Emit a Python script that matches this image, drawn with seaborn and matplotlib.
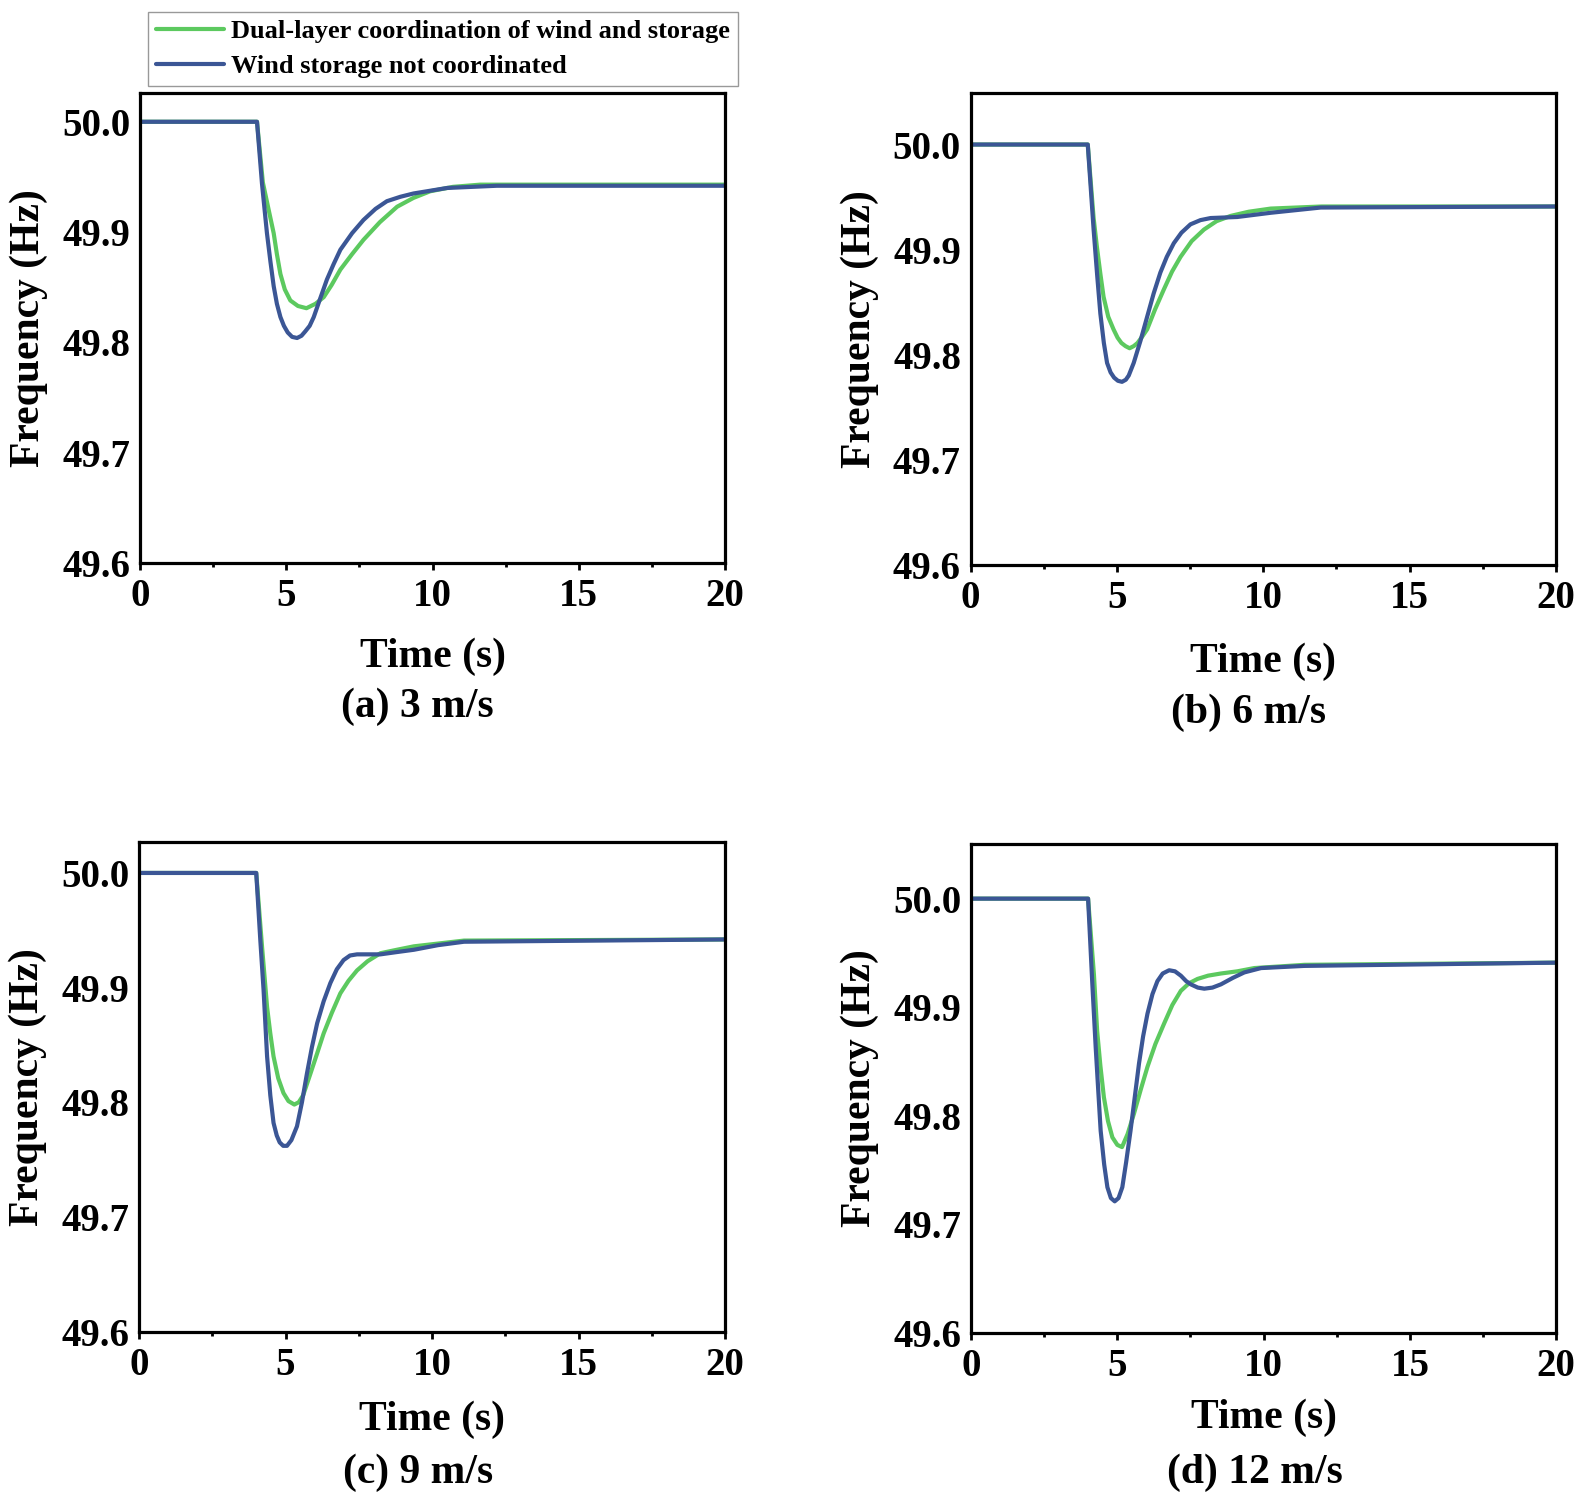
import matplotlib
matplotlib.use("Agg")
import matplotlib.pyplot as plt
import numpy as np
import pandas as pd
import seaborn as sns

# (a) 3 m/s
t_a_dual = [0, 4.0, 4.2, 4.4, 4.57, 4.68, 4.8, 4.95, 5.14, 5.4, 5.69, 6.0, 6.28, 6.55, 6.85, 7.25, 7.64, 8.2, 8.79, 9.35, 9.92, 10.7, 11.63, 14.0, 20]
f_a_dual = [50.0, 50.0, 49.945, 49.920, 49.899, 49.880, 49.862, 49.848, 49.838, 49.833, 49.831, 49.835, 49.841, 49.852, 49.866, 49.880, 49.893, 49.909, 49.923, 49.931, 49.937, 49.941, 49.943, 49.943, 49.943]
t_a_nc = [0, 4.0, 4.17, 4.34, 4.46, 4.57, 4.68, 4.8, 4.92, 5.05, 5.2, 5.37, 5.52, 5.65, 5.8, 5.94, 6.15, 6.39, 6.62, 6.85, 7.25, 7.64, 8.05, 8.44, 8.9, 9.35, 10.5, 12.2, 20]
f_a_nc = [50.0, 50.0, 49.944, 49.899, 49.873, 49.851, 49.835, 49.823, 49.815, 49.809, 49.805, 49.804, 49.806, 49.810, 49.815, 49.823, 49.839, 49.857, 49.871, 49.884, 49.899, 49.911, 49.921, 49.928, 49.932, 49.935, 49.940, 49.942, 49.942]

# (b) 6 m/s
t_b_dual = [0, 4.0, 4.2, 4.31, 4.43, 4.54, 4.7, 4.88, 5.02, 5.15, 5.29, 5.43, 5.57, 5.7, 5.86, 6.03, 6.3, 6.6, 6.88, 7.17, 7.55, 7.97, 8.4, 8.88, 9.5, 10.25, 12.0, 20]
f_b_dual = [50.0, 50.0, 49.93, 49.903, 49.877, 49.855, 49.836, 49.824, 49.816, 49.811, 49.808, 49.806, 49.808, 49.811, 49.817, 49.824, 49.843, 49.862, 49.879, 49.893, 49.908, 49.919, 49.927, 49.932, 49.936, 49.939, 49.941, 49.941]
t_b_nc = [0, 4.0, 4.2, 4.32, 4.43, 4.55, 4.66, 4.78, 4.9, 5.03, 5.17, 5.3, 5.4, 5.57, 5.8, 6.03, 6.25, 6.48, 6.7, 6.94, 7.2, 7.51, 7.85, 8.2, 9.11, 10.25, 11.96, 20]
f_b_nc = [50.0, 50.0, 49.919, 49.876, 49.839, 49.811, 49.792, 49.783, 49.778, 49.775, 49.774, 49.776, 49.780, 49.792, 49.813, 49.836, 49.858, 49.878, 49.893, 49.906, 49.916, 49.924, 49.928, 49.930, 49.931, 49.935, 49.940, 49.941]

# (c) 9 m/s
t_c_dual = [0, 4.0, 4.2, 4.37, 4.48, 4.59, 4.75, 4.93, 5.1, 5.3, 5.45, 5.6, 5.85, 6.07, 6.3, 6.58, 6.87, 7.15, 7.44, 7.8, 8.24, 8.8, 9.38, 11.09, 20]
f_c_dual = [50.0, 50.0, 49.935, 49.883, 49.860, 49.840, 49.821, 49.808, 49.801, 49.798, 49.800, 49.806, 49.825, 49.842, 49.860, 49.878, 49.895, 49.906, 49.915, 49.923, 49.930, 49.933, 49.936, 49.941, 49.942]
t_c_nc = [0, 4.0, 4.14, 4.25, 4.37, 4.48, 4.59, 4.7, 4.8, 4.92, 5.05, 5.2, 5.39, 5.56, 5.73, 5.9, 6.08, 6.3, 6.53, 6.75, 6.98, 7.2, 7.44, 7.8, 8.24, 8.8, 9.38, 10.2, 11.09, 20]
f_c_nc = [50.0, 50.0, 49.941, 49.898, 49.840, 49.806, 49.782, 49.771, 49.765, 49.762, 49.762, 49.767, 49.779, 49.800, 49.825, 49.848, 49.869, 49.888, 49.904, 49.916, 49.924, 49.928, 49.929, 49.929, 49.929, 49.931, 49.933, 49.937, 49.940, 49.942]

# (d) 12 m/s
t_d_dual = [0, 4.0, 4.2, 4.31, 4.42, 4.54, 4.68, 4.83, 5.0, 5.16, 5.35, 5.57, 5.8, 6.03, 6.3, 6.6, 6.88, 7.17, 7.45, 7.74, 8.1, 8.54, 9.1, 9.68, 11.4, 20]
f_d_dual = [50.0, 50.0, 49.93, 49.878, 49.846, 49.817, 49.795, 49.780, 49.773, 49.771, 49.783, 49.802, 49.824, 49.845, 49.866, 49.885, 49.902, 49.915, 49.922, 49.926, 49.929, 49.931, 49.933, 49.936, 49.939, 49.941]
t_d_nc = [0, 4.0, 4.14, 4.26, 4.35, 4.43, 4.55, 4.66, 4.78, 4.91, 5.04, 5.17, 5.3, 5.45, 5.6, 5.74, 5.88, 6.03, 6.2, 6.37, 6.55, 6.77, 6.97, 7.17, 7.35, 7.51, 7.75, 7.97, 8.25, 8.54, 8.95, 9.34, 9.91, 11.39, 20]
f_d_nc = [50.0, 50.0, 49.924, 49.863, 49.822, 49.786, 49.755, 49.734, 49.724, 49.721, 49.724, 49.734, 49.757, 49.786, 49.818, 49.848, 49.873, 49.894, 49.912, 49.924, 49.931, 49.934, 49.933, 49.929, 49.924, 49.921, 49.918, 49.917, 49.918, 49.921, 49.927, 49.932, 49.936, 49.938, 49.941]

series_names = ["Dual-layer coordination of wind and storage", "Wind storage not coordinated"]
subtitles = ["(a) 3 m/s", "(b) 6 m/s", "(c) 9 m/s", "(d) 12 m/s"]
y_ticks = [49.6, 49.7, 49.8, 49.9, 50.0]
x_ticks = [0, 5, 10, 15, 20]

sns.set_theme(style="ticks")
plt.rcParams["font.family"] = ["Liberation Serif", "DejaVu Serif"]
plt.rcParams["font.weight"] = "bold"
plt.rcParams["axes.labelweight"] = "bold"
plt.rcParams["text.color"] = "black"
plt.rcParams["axes.labelcolor"] = "black"

green = "#5cc95f"
blue = "#3b5695"

panels = [
    (t_a_dual, f_a_dual, t_a_nc, f_a_nc),
    (t_b_dual, f_b_dual, t_b_nc, f_b_nc),
    (t_c_dual, f_c_dual, t_c_nc, f_c_nc),
    (t_d_dual, f_d_dual, t_d_nc, f_d_nc),
]

# axes boxes in figure fractions
boxes = [
    [0.0881, 0.6244, 0.3682, 0.3135],
    [0.6109, 0.6234, 0.3683, 0.3145],
    [0.0875, 0.1117, 0.3688, 0.3266],
    [0.6111, 0.1110, 0.3683, 0.3257],
]
y_tops = [50.026, 50.049, 50.027, 50.05]
xlab_y = [-0.2, -0.206, -0.18, -0.175]
sub_pos = [(0.2624, 0.5285), (0.7860, 0.5245), (0.2630, 0.0175), (0.7900, 0.0175)]

fig = plt.figure(figsize=(15.89, 14.99), dpi=100)

for i, (td, fd, tn, fn) in enumerate(panels):
    ax = fig.add_axes(boxes[i])
    d1 = pd.DataFrame({"t": td, "f": fd})
    d2 = pd.DataFrame({"t": tn, "f": fn})
    sns.lineplot(data=d1, x="t", y="f", ax=ax, color=green, lw=3, label=series_names[0], legend=False)
    sns.lineplot(data=d2, x="t", y="f", ax=ax, color=blue, lw=3, label=series_names[1], legend=False)
    ax.set_xlim(0, 20)
    ax.set_ylim(49.6, y_tops[i])
    ax.set_xticks(x_ticks)
    ax.set_xticks([2.5, 7.5, 12.5, 17.5], minor=True)
    ax.set_yticks(y_ticks)
    ax.set_yticklabels([f"{v:.1f}" for v in y_ticks])
    for s in ax.spines.values():
        s.set_visible(True)
        s.set_linewidth(2.3)
        s.set_color("black")
    ax.tick_params(axis="x", which="major", direction="out", length=5, width=2, labelsize=28, pad=6, colors="black")
    ax.tick_params(axis="x", which="minor", direction="out", length=3, width=2, colors="black")
    ax.tick_params(axis="y", which="both", length=0, labelsize=28, pad=7, colors="black")
    for lab in ax.get_xticklabels() + ax.get_yticklabels():
        lab.set_fontweight("bold")
    ax.set_xlabel("Time (s)", fontsize=30, fontweight="bold", va="center")
    ax.xaxis.set_label_coords(0.5, xlab_y[i])
    ax.set_ylabel("Frequency (Hz)", fontsize=30, fontweight="bold", va="center")
    ax.yaxis.set_label_coords(-0.19, 0.5)
    ax.grid(False)
    fig.text(sub_pos[i][0], sub_pos[i][1], subtitles[i], fontsize=30, fontweight="bold", ha="center", va="center")
    if i == 0:
        handles, labels = ax.get_legend_handles_labels()

leg = fig.legend(handles, labels, loc="upper left", bbox_to_anchor=(0.093, 0.992), borderaxespad=0,
                 fontsize=19, frameon=True, fancybox=False, edgecolor="#999999", framealpha=1,
                 handlelength=2.6, handletextpad=0.25, borderpad=0.3, labelspacing=0.42)
leg.get_frame().set_linewidth(1.0)
for txt in leg.get_texts():
    txt.set_fontweight("bold")
    txt.set_color("black")

fig.savefig("out.png", dpi=100)
